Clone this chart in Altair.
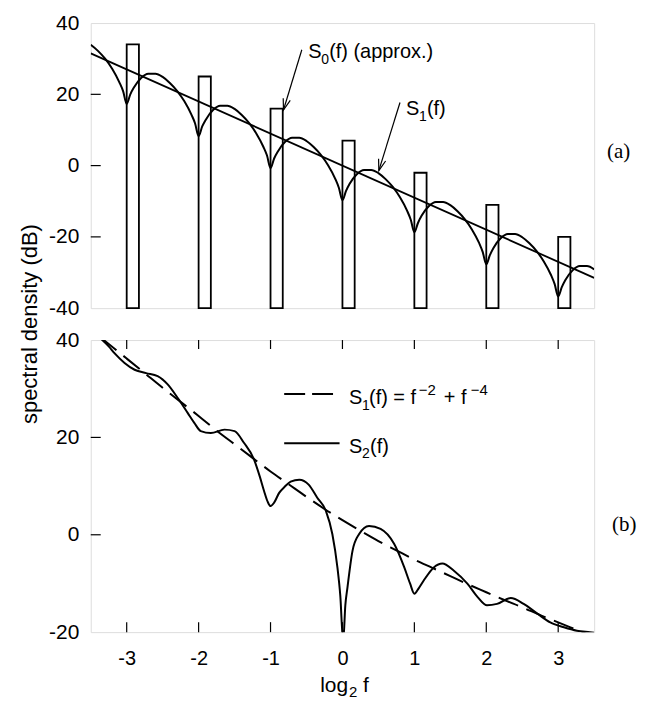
import altair as alt
import pandas as pd

# ---------------- panel (a) data ----------------
bar_centers = [-3, -2, -1, 0, 1, 2, 3]
bar_tops = [34, 25, 16, 7, -2, -11, -20]

line_x = [-3.5, 3.5]
line_y = [31.5, -31.5]

s1a_x = [-3.5, -3.4, -3.3, -3.2, -3.1, -3.05,
         -3.0, -2.95, -2.9, -2.8, -2.7, -2.6, -2.5, -2.4, -2.3, -2.2, -2.1, -2.05,
         -2.0, -1.95, -1.9, -1.8, -1.7, -1.6, -1.5, -1.4, -1.3, -1.2, -1.1, -1.05,
         -1.0, -0.95, -0.9, -0.8, -0.7, -0.6, -0.5, -0.4, -0.3, -0.2, -0.1, -0.05,
         0.0, 0.05, 0.1, 0.2, 0.3, 0.4, 0.5, 0.6, 0.7, 0.8, 0.9, 0.95,
         1.0, 1.05, 1.1, 1.2, 1.3, 1.4, 1.5, 1.6, 1.7, 1.8, 1.9, 1.95,
         2.0, 2.05, 2.1, 2.2, 2.3, 2.4, 2.5, 2.6, 2.7, 2.8, 2.9, 2.95,
         3.0, 3.05, 3.1, 3.2, 3.3, 3.4, 3.5]
s1a_y = [33.9, 32.2, 30.0, 27.1, 23.3, 20.9,
         17.3, 20.0, 21.9, 24.6, 25.8, 25.8, 24.9, 23.2, 21.0, 18.1, 14.3, 11.9,
         8.3, 11.0, 12.9, 15.6, 16.8, 16.8, 15.9, 14.2, 12.0, 9.1, 5.3, 2.9,
         -0.7, 2.0, 3.9, 6.6, 7.8, 7.8, 6.9, 5.2, 3.0, 0.1, -3.7, -6.2,
         -9.7, -7.1, -5.1, -2.4, -1.2, -1.2, -2.1, -3.8, -6.0, -8.9, -12.7, -15.2,
         -18.7, -16.1, -14.1, -11.4, -10.2, -10.2, -11.1, -12.8, -15.0, -17.9, -21.7, -24.2,
         -27.7, -25.1, -23.1, -20.4, -19.2, -19.2, -20.1, -21.8, -24.0, -26.9, -30.7, -33.2,
         -36.7, -34.1, -32.1, -29.4, -28.2, -28.2, -29.1]

yticks_a = [-20, 0, 20]

# ---------------- panel (b) data ----------------
s2_x = [-3.36, -3.25, -3.17, -3.03, -2.89, -2.73, -2.57, -2.43, -2.29, -2.15, -2.06,
        -1.97, -1.83, -1.64, -1.5, -1.37, -1.23, -1.15, -1.09, -1.04, -1.0, -0.95,
        -0.88, -0.8, -0.72, -0.6, -0.47, -0.35, -0.23, -0.14, -0.07, -0.03, 0.01,
        0.04, 0.07, 0.14, 0.23, 0.37, 0.53, 0.72, 0.86, 0.94, 1.0, 1.06, 1.13, 1.27,
        1.39, 1.55, 1.74, 1.88, 2.01, 2.15, 2.34, 2.52, 2.71, 2.89, 3.08, 3.26, 3.44, 3.5]
s2_y = [40.3, 38.7, 37.3, 35.3, 33.9, 33.2, 32.6, 30.9, 28.1, 25.0, 23.0,
        21.3, 20.9, 21.6, 21.3, 18.9, 15.5, 12.0, 9.0, 6.8, 5.9, 6.6,
        8.6, 9.9, 10.9, 11.3, 10.3, 7.6, 4.9, 0.1, -6.7, -12.5, -22.0,
        -14.5, -10.8, -3.3, 0.1, 1.8, 1.2, -1.9, -6.7, -10.0, -12.1, -11.0, -9.4, -6.7,
        -5.9, -7.4, -10.1, -12.8, -14.5, -14.2, -13.0, -14.2, -16.2, -18.0, -19.0, -19.7, -20.0, -20.1]

s1b_x = [-3.37, -3.25, -3.0, -2.75, -2.5, -2.25, -2.0, -1.75, -1.5, -1.25, -1.0,
         -0.75, -0.5, -0.25, 0.0, 0.25, 0.5, 0.75, 1.0, 1.25, 1.5, 1.75, 2.0,
         2.25, 2.5, 2.75, 3.0, 3.25, 3.5]
s1b_y = [40.6, 39.2, 36.2, 33.2, 30.2, 27.3, 24.4, 21.4, 18.6, 15.8, 13.0,
         10.4, 7.8, 5.3, 3.0, 0.8, -1.3, -3.2, -5.1, -6.8, -8.5, -10.2, -11.8,
         -13.4, -14.9, -16.5, -18.0, -19.5, -21.0]

yticks_b = [0, 20]
xticks_b = [-3, -2, -1, 0, 1, 2, 3]

# ---------------- text ----------------
ytitle = "spectral density (dB)"
# label pieces: (text, font size, dx, dy) -- base, subscripts, superscripts
xtitle = [("log", 21, 0, 0), ("2", 15, 29, 5), ("f", 21, 43, 0)]
lab_s0 = [("S", 20, 0, 0), ("0", 14, 13, 6), ("(f) (approx.)", 20, 21, 0)]
lab_s1 = [("S", 20, 0, 0), ("1", 14, 13, 6), ("(f)", 20, 21, 0)]
leg_s1 = [("S", 20, 0, 0), ("1", 14, 13, 6), ("(f) = f", 20, 20, 0), ("\u22122", 15, 70, -9),
          ("+ f", 20, 95, 0), ("\u22124", 15, 122, -9)]
leg_s2 = [("S", 20, 0, 0), ("2", 14, 13, 6), ("(f)", 20, 21, 0)]

FONT = "Liberation Sans"
SERIF = "Liberation Serif"
W = 505
HA = 286
HB = 293
LABEXPR = "datum.value < 0 ? '-' + format(-datum.value, 'd') : format(datum.value, 'd')"

xa = alt.Scale(domain=[-3.5, 3.5], nice=False, zero=False)
ya = alt.Scale(domain=[-40, 40], nice=False, zero=False)
yb = alt.Scale(domain=[-20, 40], nice=False, zero=False)


def pieced_text(x, y, pieces, y_pixel=False):
    layers = []
    for (t, fs, dx, dy) in pieces:
        enc_y = alt.value(y) if y_pixel else alt.Y("y:Q")
        layers.append(
            alt.Chart(pd.DataFrame({"x": [x], "y": [y], "t": [t]})).mark_text(
                align="left", baseline="alphabetic", font=FONT, fontSize=fs,
                dx=dx, dy=dy, color="black").encode(x="x:Q", y=enc_y, text="t:N"))
    return layers


# ---------- panel (a) ----------
bars_df = pd.DataFrame({"x": bar_centers, "x2": [c + 0.17 for c in bar_centers],
                        "y": [-40] * len(bar_centers), "y2": bar_tops})
bars = alt.Chart(bars_df).mark_bar(fill="white", stroke="black", strokeWidth=1.8).encode(
    x=alt.X("x:Q", scale=xa, axis=None), x2="x2:Q",
    y=alt.Y("y:Q", scale=ya,
            axis=alt.Axis(values=[-40, -20, 0, 20, 40], title=None, domain=False, ticks=False,
                          tickSize=0, grid=False, labelPadding=12, labelFontSize=21,
                          labelFont=FONT, labelColor="black", labelExpr=LABEXPR)),
    y2="y2:Q")

line_a = alt.Chart(pd.DataFrame({"x": line_x, "y": line_y})).mark_line(
    color="black", strokeWidth=1.8, clip=True).encode(x="x:Q", y="y:Q")

curve_a = alt.Chart(pd.DataFrame({"x": s1a_x, "y": s1a_y})).mark_line(
    color="black", strokeWidth=2, interpolate="monotone", clip=True).encode(
    x="x:Q", y="y:Q", order="x:Q")

yt_a = alt.Chart(pd.DataFrame({"v": yticks_a})).mark_rule(color="black", strokeWidth=1.2).encode(
    y="v:Q", x=alt.value(0), x2=alt.value(10))

arrows = alt.Chart(pd.DataFrame({"x": [-0.565, 0.80], "y": [32.5, 17.7],
                                 "x2": [-0.82, 0.506], "y2": [15.6, -1.4]})).mark_rule(
    color="black", strokeWidth=1.2).encode(x="x:Q", y="y:Q", x2="x2:Q", y2="y2:Q")

heads = alt.Chart(pd.DataFrame({"x": [-0.82, 0.506], "y": [15.6, -1.4]})).mark_point(
    shape="M -0.33 -1 L 0 0 L 0.33 -1", filled=False, stroke="black", strokeWidth=1.2,
    size=500, angle=17, opacity=1).encode(x="x:Q", y="y:Q")

lab_a = alt.Chart(pd.DataFrame({"y": [3.8], "t": ["(a)"]})).mark_text(
    align="left", baseline="middle", font=SERIF, fontSize=21, color="black").encode(
    x=alt.value(W + 13), y="y:Q", text="t:N")

ytitle_mark = alt.Chart(pd.DataFrame({"t": [ytitle]})).mark_text(
    angle=270, align="center", baseline="middle", font=FONT, fontSize=22, color="black").encode(
    x=alt.value(-61), y=alt.value(HA + 16), text="t:N")

panel_a = alt.layer(bars, line_a, curve_a, yt_a, arrows, heads,
                    *pieced_text(-0.476, 30.1, lab_s0),
                    *pieced_text(0.883, 14.2, lab_s1),
                    lab_a, ytitle_mark).properties(width=W, height=HA)

# ---------- panel (b) ----------
dash_b = alt.Chart(pd.DataFrame({"x": s1b_x, "y": s1b_y})).mark_line(
    color="black", strokeWidth=2, strokeDash=[21, 9], interpolate="monotone", clip=True).encode(
    x=alt.X("x:Q", scale=xa,
            axis=alt.Axis(values=xticks_b, title=None, domain=False, ticks=False, tickSize=0,
                          grid=False, labelPadding=16, labelFontSize=20, labelFont=FONT,
                          labelColor="black", labelFlush=False, labelExpr=LABEXPR)),
    y=alt.Y("y:Q", scale=yb,
            axis=alt.Axis(values=[-20, 0, 20, 40], title=None, domain=False, ticks=False,
                          tickSize=0, grid=False, labelPadding=12, labelFontSize=21,
                          labelFont=FONT, labelColor="black", labelExpr=LABEXPR)),
    order="x:Q")

solid_b = alt.Chart(pd.DataFrame({"x": s2_x, "y": s2_y})).mark_line(
    color="black", strokeWidth=2, interpolate="monotone", clip=True).encode(
    x="x:Q", y="y:Q", order="x:Q")

yt_b = alt.Chart(pd.DataFrame({"v": yticks_b})).mark_rule(color="black", strokeWidth=1.2).encode(
    y="v:Q", x=alt.value(0), x2=alt.value(10))
xt_bot = alt.Chart(pd.DataFrame({"v": xticks_b})).mark_rule(color="black", strokeWidth=1.2).encode(
    x="v:Q", y=alt.value(HB), y2=alt.value(HB - 10))
xt_top = alt.Chart(pd.DataFrame({"v": xticks_b})).mark_rule(color="black", strokeWidth=1.2).encode(
    x="v:Q", y=alt.value(0), y2=alt.value(9))

leg_dash = alt.Chart(pd.DataFrame({"x": [-0.81], "x2": [-0.04], "y": [28.9]})).mark_rule(
    color="black", strokeWidth=2, strokeDash=[21, 7]).encode(x="x:Q", x2="x2:Q", y="y:Q")
leg_solid = alt.Chart(pd.DataFrame({"x": [-0.81], "x2": [-0.04], "y": [18.8]})).mark_rule(
    color="black", strokeWidth=2).encode(x="x:Q", x2="x2:Q", y="y:Q")

lab_b = alt.Chart(pd.DataFrame({"y": [2.0], "t": ["(b)"]})).mark_text(
    align="left", baseline="middle", font=SERIF, fontSize=21, color="black").encode(
    x=alt.value(W + 18), y="y:Q", text="t:N")

panel_b = alt.layer(dash_b, solid_b, yt_b, xt_bot, xt_top, leg_dash, leg_solid,
                    *pieced_text(0.092, 26.8, leg_s1),
                    *pieced_text(0.092, 16.9, leg_s2),
                    *pieced_text(-0.31, HB + 60, xtitle, y_pixel=True),
                    lab_b).properties(width=W, height=HB)

chart = alt.vconcat(panel_a, panel_b, spacing=32, bounds="flush").properties(
    padding={"left": 10, "top": 2, "right": 5, "bottom": 5}
).configure_view(stroke="black", strokeWidth=1.5).configure(background="white")

chart.save("out.html", embed_options={"renderer": "svg", "actions": False})
